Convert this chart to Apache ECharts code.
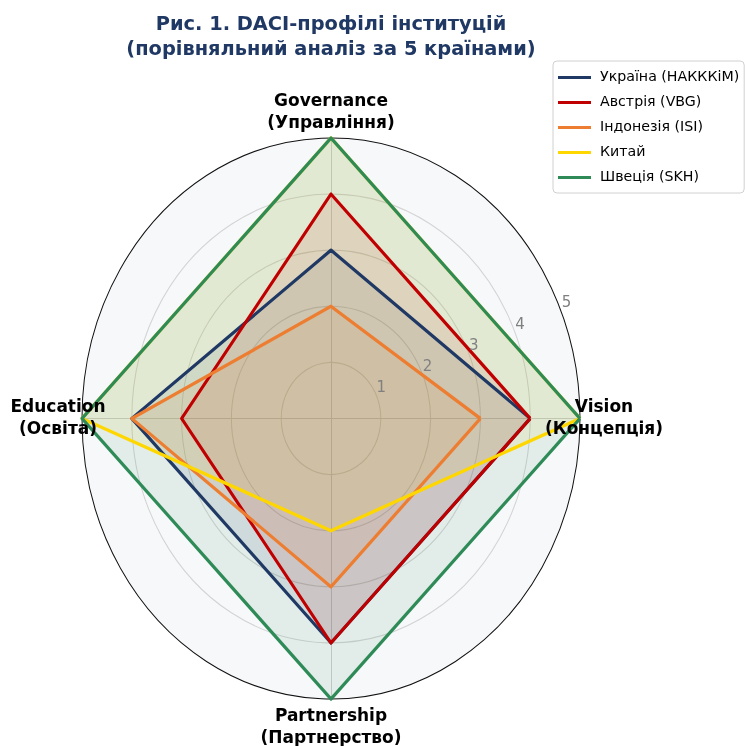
<!DOCTYPE html>
<html>
<head>
<meta charset="utf-8">
<script src="https://cdn.jsdelivr.net/npm/echarts@6/dist/echarts.min.js"></script>
<style>
  html, body { margin: 0; padding: 0; background: #fff; overflow: hidden; }
  #radar, #text { position: absolute; left: 0; top: 0; width: 745px; height: 746px; }
  /* the reference polar area is an ellipse: stretch the drawing layer vertically */
  #radar { transform: scaleY(1.1265); transform-origin: 331px 418.5px; }
  #text { pointer-events: none; }
</style>
</head>
<body>
<div id="radar"></div>
<div id="text"></div>
<script>
// axes (counter-clockwise from the right)
const axes = ['Vision\n(Концепція)', 'Governance\n(Управління)', 'Education\n(Освіта)', 'Partnership\n(Партнерство)'];
const countries = ['Україна (НАКККіМ)', 'Австрія (VBG)', 'Індонезія (ISI)', 'Китай', 'Швеція (SKH)'];
const ukraine = [4, 3, 4, 4];
const austria = [4, 4, 3, 4];
const indonesia = [3, 2, 4, 3];
const china = [5, 5, 5, 2];
const sweden = [5, 5, 5, 5];
const values = [ukraine, austria, indonesia, china, sweden];
const colors = ['#1F3864', '#C00000', '#ED7D31', '#FFD700', '#2E8B57'];

const font = 'DejaVu Sans';
const cx = 331, cy = 418.5, rx = 249, ry = 280.5;

// drawing layer
const chartA = echarts.init(document.getElementById('radar'), null, { renderer: 'svg' });
// fills sit under all outlines, like patches vs lines in the original
const fills = countries.map((name, i) => ({
  type: 'radar', name: name, symbol: 'none', z: 2,
  lineStyle: { width: 0, opacity: 0 },
  areaStyle: { color: colors[i], opacity: 0.1 },
  data: [{ value: values[i], name: name }]
}));
const outlines = countries.map((name, i) => ({
  type: 'radar', name: name, symbol: 'none', z: 3,
  lineStyle: { color: colors[i], width: 3 },
  data: [{ value: values[i], name: name }]
}));
chartA.setOption({
  animation: false,
  radar: {
    center: [cx, cy],
    radius: rx,
    startAngle: 0,
    shape: 'circle',
    splitNumber: 5,
    indicator: axes.map(n => ({ name: n, min: 0, max: 5 })),
    axisName: { show: false },
    axisTick: { show: false },
    axisLabel: { show: false },
    axisLine: { lineStyle: { color: '#cfcfcf', width: 1 } },
    splitLine: { lineStyle: { color: ['#d3d3d3', '#d3d3d3', '#d3d3d3', '#d3d3d3', '#d3d3d3', '#111'], width: 1 } },
    splitArea: { areaStyle: { color: ['#f6f8fa'] } }
  },
  series: fills.concat(outlines)
});

// text layer: title, legend, axis names, ring labels
const chartB = echarts.init(document.getElementById('text'));
const nameStyle = {
  color: '#000', fontFamily: font, fontSize: 17, fontWeight: 'bold',
  lineHeight: 22, align: 'center', verticalAlign: 'middle'
};
const hiddenParts = {
  axisLine: { show: false }, axisTick: { show: false }, axisLabel: { show: false },
  splitLine: { show: false }, splitArea: { show: false }
};
chartB.setOption({
  animation: false,
  title: {
    text: 'Рис. 1. DACI-профілі інституцій\n(порівняльний аналіз за 5 країнами)',
    left: cx, top: 12, textAlign: 'center', padding: 0,
    textStyle: { fontFamily: font, fontSize: 19.4, fontWeight: 'bold', color: '#1F3864', lineHeight: 25 }
  },
  legend: {
    orient: 'vertical', left: 553, top: 61,
    padding: [8, 5, 7, 5], itemWidth: 33, itemHeight: 3, itemGap: 8, icon: 'rect',
    backgroundColor: 'rgba(255,255,255,0.8)', borderColor: '#d0d0d0', borderWidth: 1, borderRadius: 4,
    textStyle: { fontFamily: font, fontSize: 14.2, color: '#000', lineHeight: 17, padding: [0, 0, 0, 4] },
    data: countries
  },
  radar: [
    // top / bottom names sit further out because of the ellipse
    Object.assign({
      center: [cx, cy + 2], radius: ry, startAngle: 0, shape: 'circle', nameGap: 27,
      indicator: axes.map(n => ({ name: n, min: 0, max: 5 })),
      axisName: Object.assign({ formatter: v => (axes.indexOf(v) % 2 === 1 ? v : '') }, nameStyle)
    }, hiddenParts),
    Object.assign({
      center: [cx, cy], radius: rx, startAngle: 0, shape: 'circle', nameGap: 24,
      indicator: axes.map(n => ({ name: n, min: 0, max: 5 })),
      axisName: Object.assign({ formatter: v => (axes.indexOf(v) % 2 === 0 ? v : '') }, nameStyle)
    }, hiddenParts)
  ],
  polar: { center: [cx + 4, cy - 9], radius: 254.5 },
  angleAxis: { type: 'value', min: 0, max: 360, startAngle: 24.6, show: false },
  radiusAxis: {
    type: 'value', min: 0, max: 5, interval: 1,
    axisLine: { show: false }, axisTick: { show: false }, splitLine: { show: false },
    axisLabel: {
      margin: 0, align: 'center', verticalAlign: 'middle', showMinLabel: false,
      color: '#808080', fontFamily: font, fontSize: 15
    }
  },
  series: countries.map((name, i) => ({
    type: 'radar', name: name, radarIndex: 0, symbol: 'none',
    itemStyle: { color: colors[i] }, lineStyle: { color: colors[i] },
    data: []
  }))
});
</script>
</body>
</html>
